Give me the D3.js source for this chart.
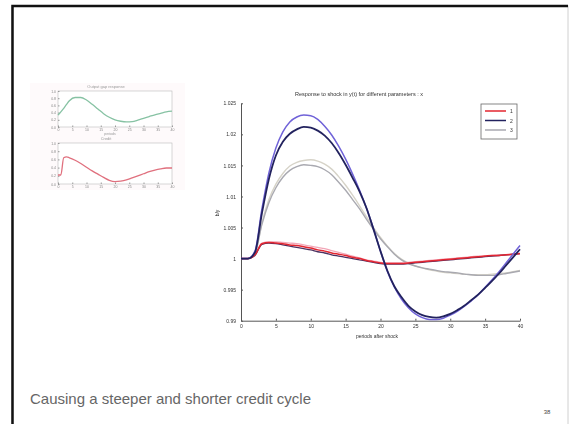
<!DOCTYPE html>
<html>
<head>
<meta charset="utf-8">
<script src="https://cdn.jsdelivr.net/npm/d3@7"></script>
<style>
  body { margin: 0; background: #fff; }
  svg { display: block; font-family: "Liberation Sans", Arial, sans-serif; }
</style>
</head>
<body>
<svg id="slide" width="571" height="424"></svg>
<script>
// periods after the shock
const periods = [0, 1, 2, 3, 4, 5, 6, 7, 8, 9, 10, 11, 12, 13, 14, 15, 16, 17, 18, 19, 20,
  21, 22, 23, 24, 25, 26, 27, 28, 29, 30, 31, 32, 33, 34, 35, 36, 37, 38, 39, 40];

// main chart, three runs (each drawn twice, the picture is a blend of two frames)
const run1 = [1.0000, 1.0000, 1.0006, 1.0024, 1.0026, 1.0025, 1.0024, 1.0022, 1.0021, 1.0019, 1.0017,
  1.0014, 1.0012, 1.0009, 1.0007, 1.0005, 1.0002, 1.0000, 0.9997, 0.9995, 0.9993, 0.9992, 0.9992,
  0.9992, 0.9993, 0.9994, 0.9995, 0.9996, 0.9997, 0.9998, 0.9999, 1.0000, 1.0001, 1.0002, 1.0003,
  1.0004, 1.0005, 1.0005, 1.0006, 1.0007, 1.0008];
const run1Dark = [1.0000, 1.0000, 1.0005, 1.0023, 1.0025, 1.0024, 1.0022, 1.0020, 1.0018, 1.0016, 1.0014,
  1.0011, 1.0009, 1.0006, 1.0004, 1.0002, 1.0000, 0.9998, 0.9996, 0.9994, 0.9992, 0.9991, 0.9991,
  0.9991, 0.9992, 0.9993, 0.9994, 0.9995, 0.9996, 0.9997, 0.9998, 0.9999, 1.0000, 1.0001, 1.0002,
  1.0003, 1.0004, 1.0005, 1.0006, 1.0007, 1.0008];
const run1Light = [1.0000, 1.0000, 1.0007, 1.0025, 1.0027, 1.0027, 1.0026, 1.0025, 1.0024, 1.0022, 1.0020,
  1.0018, 1.0016, 1.0013, 1.0010, 1.0007, 1.0004, 1.0001, 0.9998, 0.9996, 0.9994, 0.9993, 0.9993,
  0.9993, 0.9994, 0.9995, 0.9996, 0.9997, 0.9998, 0.9999, 1.0000, 1.0001, 1.0002, 1.0003, 1.0004,
  1.0004, 1.0005, 1.0006, 1.0006, 1.0007, 1.0008];
const run2 = [1.0000, 1.0000, 1.0010, 1.0073, 1.0128, 1.0166, 1.0188, 1.0201, 1.0208, 1.0212, 1.0211,
  1.0206, 1.0198, 1.0186, 1.0170, 1.0151, 1.0130, 1.0108, 1.0081, 1.0047, 1.0012, 0.9980, 0.9955,
  0.9938, 0.9924, 0.9915, 0.9909, 0.9906, 0.9905, 0.9907, 0.9911, 0.9917, 0.9924, 0.9933, 0.9942,
  0.9953, 0.9964, 0.9976, 0.9989, 1.0002, 1.0015];
const run2Light = [1.0000, 1.0000, 1.0012, 1.0080, 1.0138, 1.0178, 1.0204, 1.0220, 1.0228, 1.0231, 1.0230,
  1.0224, 1.0213, 1.0199, 1.0181, 1.0160, 1.0136, 1.0110, 1.0081, 1.0048, 1.0012, 0.9979, 0.9954,
  0.9935, 0.9921, 0.9911, 0.9905, 0.9902, 0.9902, 0.9904, 0.9909, 0.9915, 0.9923, 0.9932, 0.9942,
  0.9954, 0.9966, 0.9979, 0.9993, 1.0007, 1.0021];
const run3 = [1.0000, 1.0000, 1.0008, 1.0055, 1.0090, 1.0114, 1.0131, 1.0142, 1.0148, 1.0151, 1.0150,
  1.0148, 1.0143, 1.0135, 1.0123, 1.0110, 1.0095, 1.0080, 1.0063, 1.0047, 1.0032, 1.0019, 1.0007,
  0.9998, 0.9992, 0.9988, 0.9985, 0.9983, 0.9981, 0.9979, 0.9978, 0.9977, 0.9975, 0.9974, 0.9973,
  0.9973, 0.9973, 0.9974, 0.9976, 0.9978, 0.9980];
const run3Light = [1.0000, 1.0000, 1.0009, 1.0058, 1.0095, 1.0120, 1.0137, 1.0149, 1.0155, 1.0158, 1.0159,
  1.0157, 1.0152, 1.0144, 1.0132, 1.0118, 1.0102, 1.0085, 1.0067, 1.0050, 1.0034, 1.0020, 1.0008,
  0.9999, 0.9993, 0.9988, 0.9985, 0.9982, 0.9980, 0.9978, 0.9977, 0.9976, 0.9975, 0.9974, 0.9974,
  0.9974, 0.9975, 0.9976, 0.9977, 0.9979, 0.9981];

const legendNames = ["1", "2", "3"];
const xTicks = [0, 5, 10, 15, 20, 25, 30, 35, 40];
const yTicks = [0.99, 0.995, 1, 1.005, 1.01, 1.015, 1.02, 1.025];

// small panels on the left
const smallPeriods = [0, 1, 2, 3, 4, 6, 8, 10, 12, 14, 16, 18, 20, 22, 24, 26, 28, 30, 32, 34, 36, 38, 40];
const smallTop = [0.33, 0.42, 0.52, 0.63, 0.73, 0.82, 0.82, 0.75, 0.63, 0.50, 0.37, 0.27, 0.20, 0.16,
  0.14, 0.15, 0.19, 0.24, 0.29, 0.34, 0.38, 0.42, 0.44];
const smallBottom = [0.22, 0.22, 0.64, 0.66, 0.64, 0.58, 0.50, 0.41, 0.32, 0.24, 0.16, 0.09, 0.06, 0.07,
  0.10, 0.15, 0.20, 0.25, 0.30, 0.34, 0.37, 0.39, 0.39];
const smallXTicks = [0, 5, 10, 15, 20, 25, 30, 35, 40];
const smallYTicks = [0, 0.2, 0.4, 0.6, 0.8, 1];

const svg = d3.select("#slide");

svg.append("defs").append("filter")
  .attr("id", "soft")
  .append("feGaussianBlur")
  .attr("stdDeviation", 0.45);

// slide frame
svg.append("rect")
  .attr("x", 12).attr("y", 6).attr("width", 556).attr("height", 430)
  .attr("fill", "#fff").attr("stroke", "#d0d0d0").attr("stroke-width", 1);
svg.append("path")
  .attr("d", "M12.5,430 V6 H568")
  .attr("fill", "none").attr("stroke", "#111").attr("stroke-width", 2.5);

// ---- main chart ----
const x = d3.scaleLinear().domain([0, 40]).range([241, 520]);
const y = d3.scaleLinear().domain([0.99, 1.025]).range([320.7, 103.3]);

const chart = svg.append("g").attr("filter", "url(#soft)");

chart.append("g")
  .attr("transform", "translate(0,320.7)")
  .call(d3.axisBottom(x).tickValues(xTicks).tickSizeInner(-2).tickSizeOuter(0).tickPadding(4)
    .tickFormat(d3.format("")))
  .call((g) => g.select(".domain").attr("stroke", "#555"))
  .call((g) => g.selectAll(".tick line").attr("stroke", "#555"))
  .call((g) => g.selectAll("text").attr("font-size", 5).attr("fill", "#333"));

chart.append("g")
  .attr("transform", "translate(241,0)")
  .call(d3.axisLeft(y).tickValues(yTicks).tickSizeInner(-2).tickSizeOuter(0).tickPadding(5)
    .tickFormat((d) => String(d)))
  .call((g) => g.select(".domain").attr("stroke", "#555"))
  .call((g) => g.selectAll(".tick line").attr("stroke", "#555"))
  .call((g) => g.selectAll("text").attr("font-size", 5).attr("fill", "#333"));

chart.append("text")
  .attr("x", 359).attr("y", 96)
  .attr("text-anchor", "middle").attr("font-size", 5.5).attr("fill", "#333")
  .text("Response to shock in y(t) for different parameters : x");
chart.append("text")
  .attr("transform", "translate(219,213) rotate(-90)")
  .attr("text-anchor", "middle").attr("font-size", 5).attr("fill", "#333")
  .text("b/y");
chart.append("text")
  .attr("x", 377).attr("y", 338)
  .attr("text-anchor", "middle").attr("font-size", 5).attr("fill", "#333")
  .text("periods after shock");

const line = d3.line()
  .x((d, i) => x(periods[i]))
  .y((d) => y(d))
  .curve(d3.curveMonotoneX);

const runs = [
  { values: run3Light, color: "#d6d3c8", width: 1.4 },
  { values: run3, color: "#a9a9b0", width: 1.4 },
  { values: run1Light, color: "#f2a7b8", width: 1.3 },
  { values: run1Dark, color: "#4a3060", width: 1.3 },
  { values: run1, color: "#e32630", width: 1.5 },
  { values: run2Light, color: "#6f62d8", width: 1.5 },
  { values: run2, color: "#23235e", width: 1.8 },
];
chart.selectAll("path.run")
  .data(runs)
  .enter()
  .append("path")
  .attr("class", "run")
  .attr("fill", "none")
  .attr("stroke", (d) => d.color)
  .attr("stroke-width", (d) => d.width)
  .attr("d", (d) => line(d.values));

// legend
const legendColors = ["#e32630", "#23235e", "#a9a9b0"];
const legend = chart.append("g").attr("transform", "translate(481,104)");
legend.append("rect")
  .attr("width", 36).attr("height", 35)
  .attr("fill", "#fff").attr("stroke", "#666").attr("stroke-width", 0.8);
legend.selectAll("line")
  .data(legendNames)
  .enter()
  .append("line")
  .attr("x1", 4).attr("x2", 25)
  .attr("y1", (d, i) => 7 + i * 9.5)
  .attr("y2", (d, i) => 7 + i * 9.5)
  .attr("stroke", (d, i) => legendColors[i])
  .attr("stroke-width", 1.5);
legend.selectAll("text")
  .data(legendNames)
  .enter()
  .append("text")
  .attr("x", 29)
  .attr("y", (d, i) => 9 + i * 9.5)
  .attr("font-size", 5).attr("fill", "#333")
  .text((d) => d);

// ---- small panels ----
const small = svg.append("g").attr("filter", "url(#soft)");
small.append("rect")
  .attr("x", 30).attr("y", 83).attr("width", 155).attr("height", 107)
  .attr("fill", "#fefafb");

const sx = d3.scaleLinear().domain([0, 40]).range([58, 172]);
const panels = [
  { top: 91, bottom: 127, values: smallTop, color: "#86c2a3", title: "Output gap response", xlabel: "periods" },
  { top: 143, bottom: 184, values: smallBottom, color: "#e0707e", title: "Credit", xlabel: "" },
];
panels.forEach((p) => {
  const sy = d3.scaleLinear().domain([0, 1]).range([p.bottom, p.top]);
  const g = small.append("g");
  g.append("rect")
    .attr("x", 58).attr("y", p.top).attr("width", 114).attr("height", p.bottom - p.top)
    .attr("fill", "#fff").attr("stroke", "#bbb").attr("stroke-width", 0.6);
  g.append("g")
    .attr("transform", "translate(0," + p.bottom + ")")
    .call(d3.axisBottom(sx).tickValues(smallXTicks).tickSizeInner(-1.5).tickSizeOuter(0).tickPadding(2)
      .tickFormat(d3.format("")))
    .call((a) => a.select(".domain").remove())
    .call((a) => a.selectAll(".tick line").attr("stroke", "#999"))
    .call((a) => a.selectAll("text").attr("font-size", 3.5).attr("fill", "#888"));
  g.append("g")
    .attr("transform", "translate(58,0)")
    .call(d3.axisLeft(sy).tickValues(smallYTicks).tickSizeInner(-1.5).tickSizeOuter(0).tickPadding(2)
      .tickFormat(d3.format(".1f")))
    .call((a) => a.select(".domain").remove())
    .call((a) => a.selectAll(".tick line").attr("stroke", "#999"))
    .call((a) => a.selectAll("text").attr("font-size", 3.5).attr("fill", "#888"));
  g.append("text")
    .attr("x", 106).attr("y", p.top - 3)
    .attr("text-anchor", "middle").attr("font-size", 4).attr("fill", "#999")
    .text(p.title);
  if (p.xlabel) {
    g.append("text")
      .attr("x", 110).attr("y", p.bottom + 8)
      .attr("text-anchor", "middle").attr("font-size", 3.5).attr("fill", "#999")
      .text(p.xlabel);
  }
  g.append("path")
    .attr("fill", "none")
    .attr("stroke", p.color)
    .attr("stroke-width", 1.3)
    .attr("d", d3.line()
      .x((d, i) => sx(smallPeriods[i]))
      .y((d) => sy(d))
      .curve(d3.curveMonotoneX)(p.values));
});

// caption and page number
svg.append("text")
  .attr("x", 30).attr("y", 404)
  .attr("font-size", 15).attr("fill", "#666")
  .text("Causing a steeper and shorter credit cycle");
svg.append("text")
  .attr("x", 547).attr("y", 414)
  .attr("text-anchor", "middle").attr("font-size", 6).attr("fill", "#444")
  .text("38");
</script>
</body>
</html>
